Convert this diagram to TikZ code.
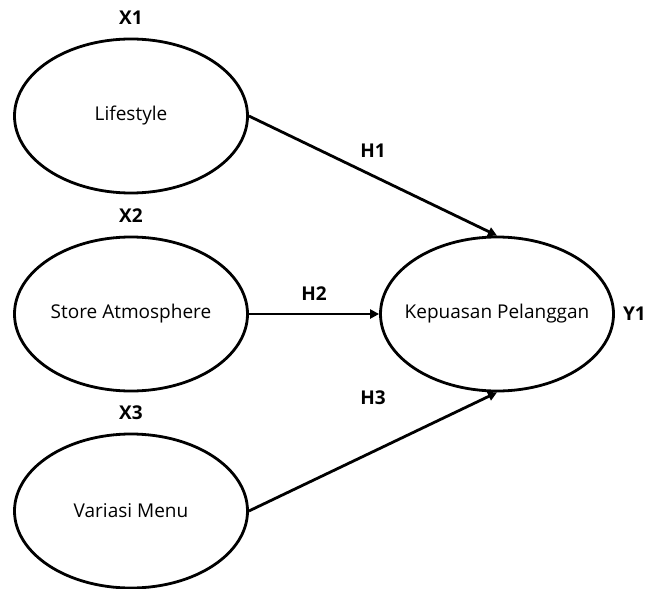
\documentclass[tikz,border=0pt]{standalone}
\usepackage{fontspec}
\setmainfont{Open Sans}
\usepackage{tikz}
\usetikzlibrary{
  positioning,
  shapes.geometric,
  arrows.meta
}

\tikzset{
  construct/.style={draw, ellipse, line width=2.8pt, minimum width=233pt, minimum height=154pt, inner xsep=-20pt, inner ysep=0pt, font=\fontsize{19}{22}\selectfont},
  tag/.style={font=\bfseries\fontsize{19}{22}\selectfont},
  path/.style={line width=2.8pt, -{Triangle[length=9pt,width=9pt]}}
}

\begin{document}
\begin{tikzpicture}[x=1pt, y=-1pt]
	    \useasboundingbox (0,0) rectangle (652,588);
	    %\draw[very thin,color=gray] (0,0) grid[step=50] (652,588);
	    \node[construct] (lifestyle) at (131,116) {Lifestyle};
	    \node[construct] (store) at (131,314) {Store Atmosphere};
	    \node[construct] (menu) at (131,511) {Variasi Menu};
	    \node[construct] (puas) at (497,314) {Kepuasan Pelanggan};
	    
	    \node[tag] (x1) at (131,18) {X1};
	    \node[tag] (x2) at (131,216) {X2};
	    \node[tag] (x3) at (131,413) {X3};
	    \node[tag, right=7pt of puas, inner sep=1pt] (y1) {Y1};
	    
	    % hypotheses
	    \draw[path] (lifestyle.east) -- (puas.north) node (h1) [tag, pos=0.5, above=14pt] {H1};
	    \draw[path] (store.east) -- (puas.west) node (h2) [tag, pos=0.5, above=9pt] {H2};
	    \draw[path] (menu.east) -- (puas.south) node (h3) [tag, pos=0.5, above=42pt] {H3};
	\end{tikzpicture}
\end{document}
